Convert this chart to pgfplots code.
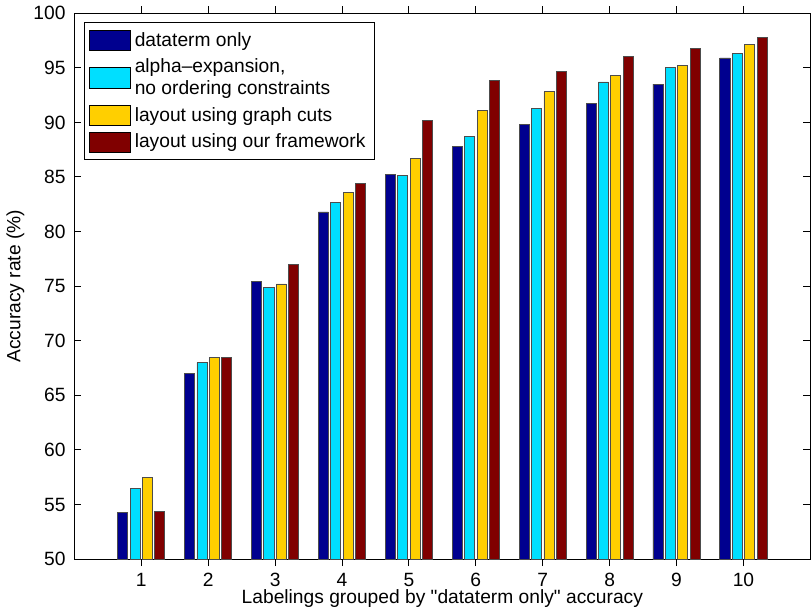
\documentclass[border=0pt]{standalone}
\usepackage{pgfplots}
\pgfplotsset{compat=1.18}
\usepackage{fontspec}
\setmainfont{Liberation Sans}
\newfontfamily\plainf{Liberation Sans}
\definecolor{cA}{RGB}{0,0,143}
\definecolor{cB}{RGB}{0,223,255}
\definecolor{cC}{RGB}{255,207,0}
\definecolor{cD}{RGB}{128,0,0}
\begin{document}
\fontsize{9.5}{11}\selectfont
\begin{tikzpicture}
\begin{axis}[
  scale only axis,
  width=364pt, height=270pt,
  xmin=0, xmax=11, ymin=50, ymax=100,
  xtick={1,...,10}, ytick={50,55,...,100},
  tick align=inside, tick pos=both,
  major tick length=3.5pt,
  axis line style={line width=0.6pt},
  every tick/.style={black, line width=0.5pt},
  /pgf/number format/assume math mode=true,
  tick label style={font=\fontsize{9.5}{11}\selectfont},
  label style={font=\fontsize{9.5}{11}\selectfont},
  yticklabel style={xshift=-1pt},
  xlabel={{\plainf Labelings grouped by "dataterm only" accuracy}},
  ylabel={Accuracy rate (\%)},
  xlabel style={yshift=5pt},
  ylabel style={yshift=-2pt},
  ybar, bar width=0.15,
  legend style={at={(0.013,0.983)}, anchor=north west, draw=black, line width=0.5pt,
    font=\fontsize{9.5}{10.5}\selectfont, cells={anchor=west, align=left},
    row sep=1pt, inner sep=2.5pt},
  legend image code/.code={\draw[#1, draw=black, line width=0.4pt] (0pt,-5pt) rectangle (20pt,5pt);},
  every axis plot/.append style={draw=black!70, line width=0.4pt},
]
\addplot[fill=cA, bar shift=-0.2775] coordinates {(1,54.3) (2,67.0) (3,75.4) (4,81.8) (5,85.2) (6,87.8) (7,89.8) (8,91.7) (9,93.5) (10,95.9)};
\addplot[fill=cB, bar shift=-0.0925] coordinates {(1,56.5) (2,68.0) (3,74.9) (4,82.7) (5,85.1) (6,88.7) (7,91.3) (8,93.7) (9,95.0) (10,96.35)};
\addplot[fill=cC, bar shift=0.0925] coordinates {(1,57.5) (2,68.5) (3,75.2) (4,83.6) (5,86.7) (6,91.1) (7,92.8) (8,94.3) (9,95.2) (10,97.1)};
\addplot[fill=cD, bar shift=0.2775] coordinates {(1,54.4) (2,68.5) (3,77.0) (4,84.4) (5,90.2) (6,93.8) (7,94.65) (8,96.0) (9,96.75) (10,97.8)};
\legend{dataterm only, {alpha--expansion,\\no ordering constraints}, layout using graph cuts, layout using our framework}
\end{axis}
\end{tikzpicture}
\end{document}
